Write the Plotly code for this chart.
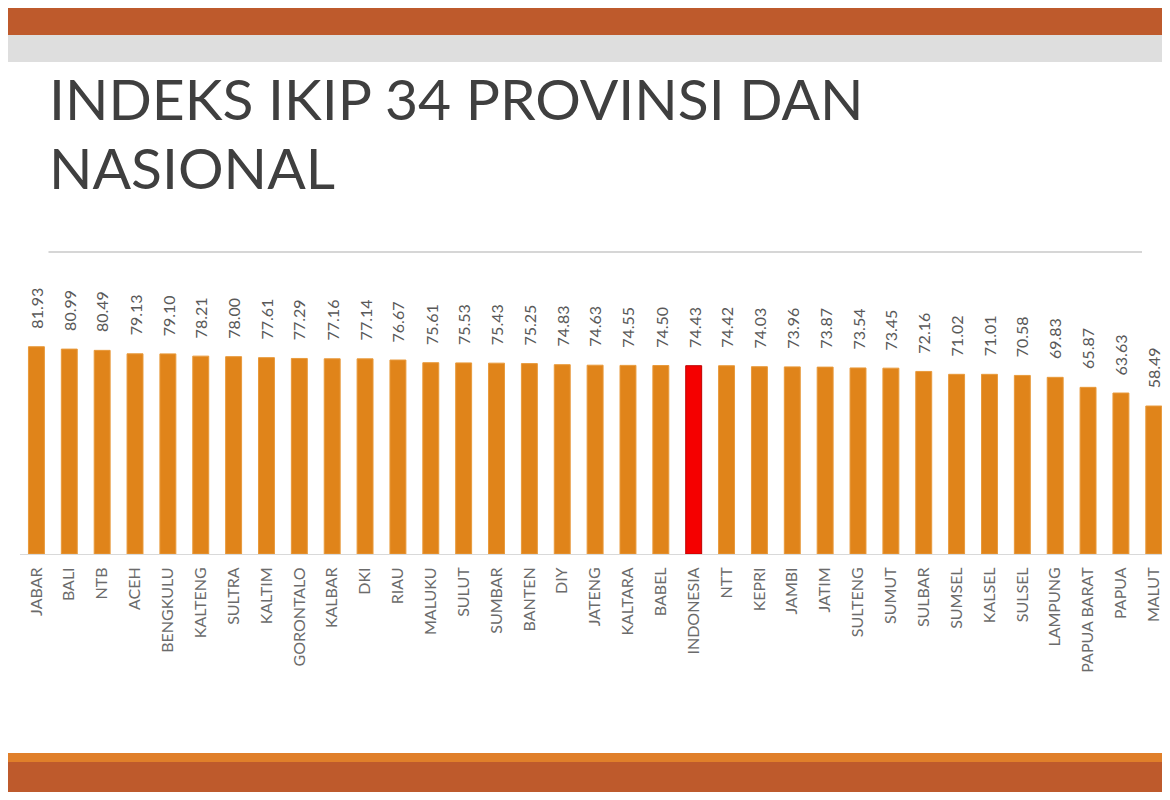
import plotly.graph_objects as go

# Indeks IKIP per provinsi + nasional
provinsi = ['JABAR', 'BALI', 'NTB', 'ACEH', 'BENGKULU', 'KALTENG', 'SULTRA', 'KALTIM',
            'GORONTALO', 'KALBAR', 'DKI', 'RIAU', 'MALUKU', 'SULUT', 'SUMBAR', 'BANTEN',
            'DIY', 'JATENG', 'KALTARA', 'BABEL', 'INDONESIA', 'NTT', 'KEPRI', 'JAMBI',
            'JATIM', 'SULTENG', 'SUMUT', 'SULBAR', 'SUMSEL', 'KALSEL', 'SULSEL',
            'LAMPUNG', 'PAPUA BARAT', 'PAPUA', 'MALUT']
nilai = [81.93, 80.99, 80.49, 79.13, 79.10, 78.21, 78.00, 77.61,
         77.29, 77.16, 77.14, 76.67, 75.61, 75.53, 75.43, 75.25,
         74.83, 74.63, 74.55, 74.50, 74.43, 74.42, 74.03, 73.96,
         73.87, 73.54, 73.45, 72.16, 71.02, 71.01, 70.58,
         69.83, 65.87, 63.63, 58.49]

OFF = 8  # halaman html punya margin 8px
W, H = 1170 - 2 * OFF, 800 - 2 * OFF   # supaya tidak muncul scrollbar
ML, MR, MT, MB = 11.5, 0, 293, 238

def py(y):  # piksel layar -> paper (vertikal)
    return (H - MB - (y - OFF)) / (H - MT - MB)

def px(x):  # piksel layar -> paper (horizontal)
    return ((x - OFF) - ML) / (W - ML - MR)

warna = ['#F50000' if p == 'INDONESIA' else '#E0841A' for p in provinsi]
garis = ['#C00000' if p == 'INDONESIA' else '#E89A3C' for p in provinsi]

fig = go.Figure(go.Bar(
    x=provinsi, y=nilai,
    marker=dict(color=warna, line=dict(color=garis, width=1)),
    hoverinfo='x+y',
))

shapes = [
    dict(type='rect', xref='paper', yref='paper', x0=px(-20), x1=px(1190), y0=py(35), y1=py(-20),
         fillcolor='#BE5A2C', line_width=0, layer='below'),
    dict(type='rect', xref='paper', yref='paper', x0=px(-20), x1=px(1190), y0=py(62), y1=py(35),
         fillcolor='#DEDEDE', line_width=0, layer='below'),
    dict(type='line', xref='paper', yref='paper', x0=px(48), x1=px(1142), y0=py(252), y1=py(252),
         line=dict(color='#C8C8C8', width=1.5)),
    dict(type='rect', xref='paper', yref='paper', x0=px(-20), x1=px(1190), y0=py(762), y1=py(753),
         fillcolor='#E07F2A', line_width=0, layer='below'),
    dict(type='rect', xref='paper', yref='paper', x0=px(-20), x1=px(1190), y0=py(820), y1=py(762),
         fillcolor='#BE5A2C', line_width=0, layer='below'),
]

judul = dict(xref='paper', yref='paper', xanchor='left', yanchor='top', showarrow=False,
             font=dict(family='Lato', size=57, color='#3F3F3F'))
annotations = [
    dict(judul, text='INDEKS IKIP 34 PROVINSI DAN', x=px(47), y=py(62)),
    dict(judul, text='NASIONAL', x=px(47), y=py(131)),
]
# label nilai di atas batang, diputar
for p, v in zip(provinsi, nilai):
    annotations.append(dict(
        x=p, y=v, text=f'{v:.2f}', textangle=-90, showarrow=False,
        xanchor='center', yanchor='bottom', yshift=16,
        font=dict(family='Lato', size=16, color='#595959'),
    ))

fig.update_layout(
    width=W, height=H,
    margin=dict(l=ML, r=MR, t=MT, b=MB),
    paper_bgcolor='white', plot_bgcolor='white',
    showlegend=False, bargap=0.515,
    shapes=shapes, annotations=annotations,
    xaxis=dict(tickangle=-90, tickfont=dict(family='Lato', size=16, color='#6B6B6B'),
               range=[-0.5, 34.25],
               showline=True, linecolor='#D9D9D9', linewidth=1, ticks='',
               ticklabelstandoff=6, showgrid=False, fixedrange=True),
    yaxis=dict(range=[0, 100], visible=False, showgrid=False, fixedrange=True),
)

fig.write_html("out.html")
